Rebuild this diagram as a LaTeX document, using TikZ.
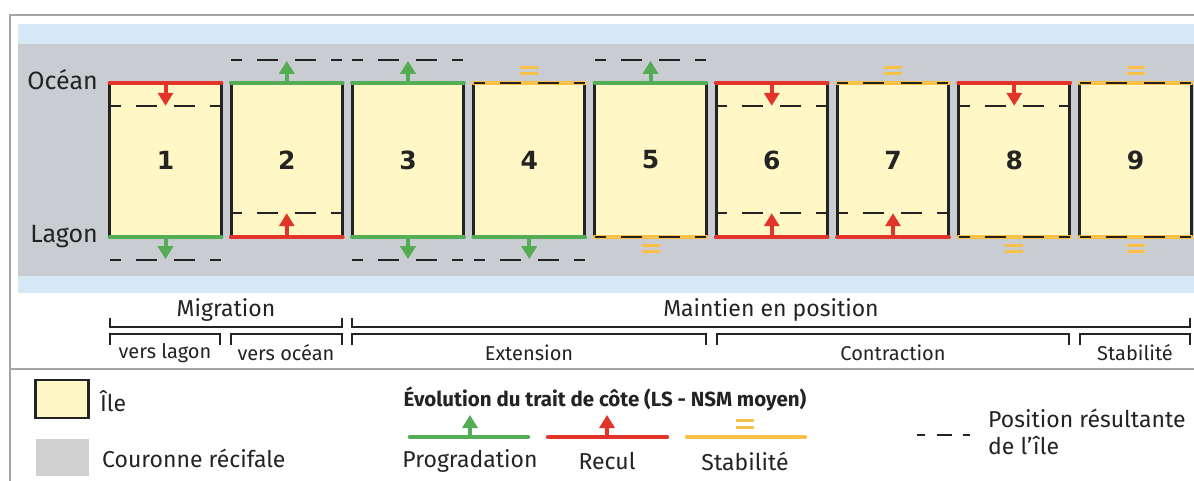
\documentclass[tikz,border=0pt]{standalone}
\usepackage{fontspec}
\setmainfont{Fira Sans}
\newfontfamily\numfont{DejaVu Sans}
\usetikzlibrary{arrows.meta,positioning,calc}
\definecolor{mer}{RGB}{214,232,245}
\definecolor{recif}{RGB}{201,205,209}
\definecolor{ilecol}{RGB}{255,248,198}
\definecolor{prog}{RGB}{84,172,84}
\definecolor{recul}{RGB}{226,52,40}
\definecolor{stab}{RGB}{250,192,72}
\definecolor{encre}{RGB}{35,35,35}
\definecolor{cadre}{RGB}{165,165,165}
\newcommand{\taille}[1]{\fontsize{#1}{#1}\selectfont}
\begin{document}
\begin{tikzpicture}[x=1pt,y=-1pt,>=Stealth,
  ile/.style={fill=ilecol,minimum width=111pt,minimum height=154pt,inner sep=0pt,text=encre,font=\numfont\bfseries\taille{25}},
  bord/.style={line width=4.5pt,line cap=round},
  cote/.style={line width=3pt,encre},
  tiret/.style={line width=2.4pt,encre,dash pattern=on 11pt off 15pt on 21pt off 17pt on 21pt off 15pt on 11pt off 60pt},
  fl/.style={line width=4pt,-{Triangle[width=15pt,length=13pt]}},
  eq/.style={line width=3pt,stab},
  lbl/.style={text=encre,font=\taille{23},inner sep=0pt},
  petit/.style={text=encre,font=\taille{20},inner sep=0pt},
  acc/.style={line width=1.6pt,encre}]
\useasboundingbox (0,0) rectangle (1194,481);
\fill[white] (0,0) rectangle (1194,481);
\fill[mer] (18,24) rectangle (1194,293);
\fill[recif] (18,44) rectangle (1194,276);
\draw[cadre,line width=1.2pt] (1194,15) -- (10,15) -- (10,481) (10,369) -- (1194,369);
\node[lbl,font=\taille{25},anchor=east] (ocean) at (98,80) {Océan};
\node[lbl,font=\taille{25},anchor=east] (lagon) at (98,237) {Lagon};
\foreach \i in {1,...,9}{
  \node[ile] (b\i) at ({44.25+121.25*\i},160) {\i};
  \draw[cote] (b\i.north west) -- (b\i.south west) (b\i.north east) -- (b\i.south east);
}
\foreach \i in {1,6,8}{
  \coordinate (t\i) at ($(b\i.north)+(0,23)$);
  \draw[tiret] ($(b\i.north west)+(0,23)$) -- ($(b\i.north east)+(0,23)$);
  \draw[bord,recul] (b\i.north west) -- (b\i.north east);
  \draw[fl,recul] (b\i.north) -- (t\i);
}
\foreach \i in {2,3,5}{
  \coordinate (t\i) at ($(b\i.north)+(0,-22)$);
  \draw[tiret] ($(b\i.north west)+(0,-23)$) -- ($(b\i.north east)+(0,-23)$);
  \draw[bord,prog] (b\i.north west) -- (b\i.north east);
  \draw[fl,prog] (b\i.north) -- (t\i);
}
\foreach \i in {4,7,9}{
  \draw[bord,stab] (b\i.north west) -- (b\i.north east);
  \draw[tiret] (b\i.north west) -- (b\i.north east);
  \draw[eq] ($(b\i.north)+(-9,-15)$) -- ++(18,0) ($(b\i.north)+(-9,-9)$) -- ++(18,0);
}
\foreach \i in {2,6,7}{
  \coordinate (d\i) at ($(b\i.south)+(0,-24)$);
  \draw[tiret] ($(b\i.south west)+(0,-24)$) -- ($(b\i.south east)+(0,-24)$);
  \draw[bord,recul] (b\i.south west) -- (b\i.south east);
  \draw[fl,recul] (b\i.south) -- (d\i);
}
\foreach \i in {1,3,4}{
  \coordinate (d\i) at ($(b\i.south)+(0,22)$);
  \draw[tiret] ($(b\i.south west)+(0,23)$) -- ($(b\i.south east)+(0,23)$);
  \draw[bord,prog] (b\i.south west) -- (b\i.south east);
  \draw[fl,prog] (b\i.south) -- (d\i);
}
\foreach \i in {5,8,9}{
  \draw[bord,stab] (b\i.south west) -- (b\i.south east);
  \draw[tiret] (b\i.south west) -- (b\i.south east);
  \draw[eq] ($(b\i.south)+(-9,8)$) -- ++(18,0) ($(b\i.south)+(-9,14)$) -- ++(18,0);
}
\node[lbl] (migr) at (226,310) {Migration};
\node[lbl] (maint) at (771,310) {Maintien en position};
\node[petit] (vlag) at (165,353) {vers lagon};
\node[petit] (voce) at (286,353) {vers océan};
\node[petit] (ext) at (529,353) {Extension};
\node[petit] (contr) at (893,353) {Contraction};
\node[petit] (stabl) at (1135,353) {Stabilité};
\draw[acc] (110,318) -- (110,327) -- (342,327) -- (342,318);
\draw[acc] (352,318) -- (352,327) -- (1190,327) -- (1190,318);
\draw[acc] (110,345) -- (110,334) -- (220,334) -- (220,345);
\draw[acc] (231,345) -- (231,334) -- (342,334) -- (342,345);
\draw[acc] (352,345) -- (352,334) -- (706,334) -- (706,345);
\draw[acc] (717,345) -- (717,334) -- (1069,334) -- (1069,345);
\draw[acc] (1080,345) -- (1080,334) -- (1190,334) -- (1190,345);
\node[draw=encre,line width=2.5pt,fill=ilecol,minimum width=53pt,minimum height=38pt,inner sep=0pt] (lile) at (62,399) {};
\node[lbl,anchor=west] (tile) at (100,401) {Île};
\node[fill=black!18,minimum width=53pt,minimum height=37pt,inner sep=0pt] (lrec) at (62,457) {};
\node[lbl,anchor=west] (trec) at (102,458) {Couronne récifale};
\node[lbl,font=\bfseries\taille{20.5}] (titre) at (605,399) {Évolution du trait de côte (LS - NSM moyen)};
\node[lbl] (lprog) at (470,461) {Progradation};
\node[lbl] (lrecul) at (607,461) {Recul};
\node[lbl] (lstab) at (745,461) {Stabilité};
\coordinate (gp) at (470,415);
\coordinate (rp) at (607,415);
\draw[bord,prog] (410,437) -- (528,437);
\draw[fl,prog] (470,437) -- (gp);
\draw[bord,recul] (548,437) -- (667,437);
\draw[fl,recul] (607,437) -- (rp);
\draw[bord,stab] (687,437) -- (805,437);
\draw[eq] (736,420) -- (754,420) (736,427) -- (754,427);
\draw[line width=2.4pt,encre,dash pattern=on 8pt off 12pt on 15pt off 11pt on 8pt off 20pt] (917,435) -- (970,435);
\node[lbl,anchor=west] (lpos) at (988,418) {Position résultante};
\node[lbl,anchor=west] (lpos2) at (988,446) {de l’île};
\end{tikzpicture}
\end{document}
